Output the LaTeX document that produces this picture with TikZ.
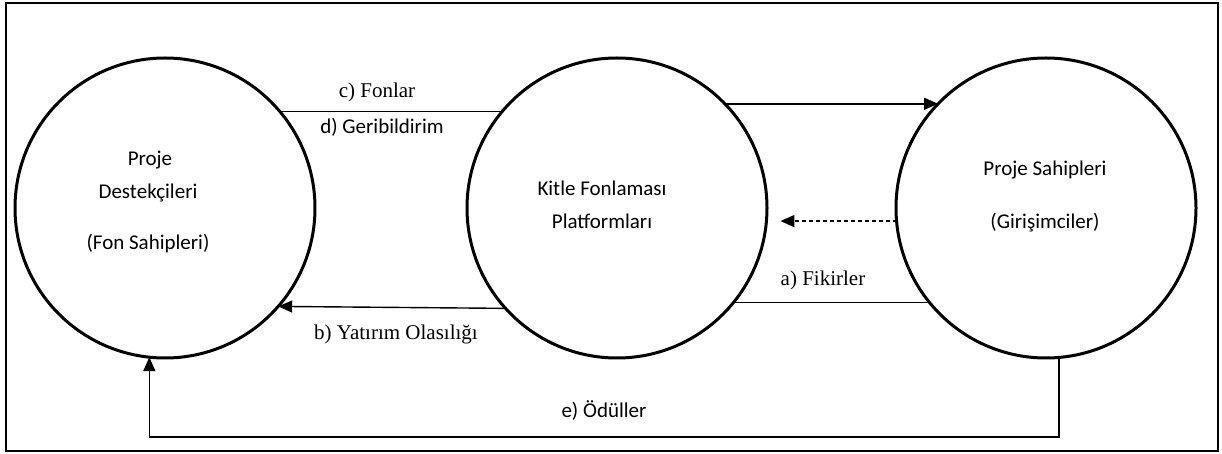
\documentclass[tikz,border=0pt]{standalone}
\usepackage{fontspec}
\setmainfont{Liberation Serif}
\newfontfamily\calfont{Carlito}
\usetikzlibrary{arrows.meta}
\begin{document}
\begin{tikzpicture}[x=0.5pt,y=-0.5pt,
  circ/.style={circle,draw,line width=1.5pt,minimum size=150pt,inner sep=0pt,outer sep=0pt},
  sanstext/.style={font=\calfont\fontsize{10.5}{12.6}\selectfont,inner sep=0pt},
  seriftext/.style={font=\fontsize{10.5}{12.6}\selectfont,inner sep=0pt},
  conn/.style={line width=0.7pt},
  arr/.style={line width=0.7pt,-{Triangle[length=7pt,width=6pt]}}]
\useasboundingbox (0,0) rectangle (1222,454);
\node[draw,line width=1pt,minimum width=606pt,minimum height=224pt,inner sep=0pt,outer sep=0pt,anchor=north west] (frame) at (6,3) {};
\node[circ] (L) at (165,208) {};
\node[circ] (M) at (617,208) {};
\node[circ] (R) at (1046,208) {};
% circle texts
\node[sanstext] (l1) at (150,160) {Proje};
\node[sanstext] (l2) at (148,193) {Destekçileri};
\node[sanstext] (l3) at (148,244) {(Fon Sahipleri)};
\node[sanstext] (m1) at (602,188) {Kitle Fonlaması};
\node[sanstext] (m2) at (602,221) {Platformları};
\node[sanstext] (r1) at (1045,170) {Proje Sahipleri};
\node[sanstext] (r2) at (1045,223) {(Girişimciler)};
% connectors
\draw[conn] (L.40) -- (M.140);
\draw[arr] (M.44) -- (R.136);
\draw[arr,dash pattern=on 2pt off 1.5pt] (R.185) -- ([xshift=7pt]M.-5);
\draw[conn] (R.219) -- (M.-39);
\draw[arr] (M.222) -- (L.-41.5);
\coordinate (bot) at (0,437);
\draw[arr] (R.-85) -- (R.-85 |- bot) -| (L.-96);
% labels
\node[seriftext] (lc) at (377,92) {c) Fonlar};
\node[sanstext] (ld) at (382,127) {d) Geribildirim};
\node[seriftext] (la) at (823,280) {a) Fikirler};
\node[seriftext] (lb) at (396,334) {b) Yatırım Olasılığı};
\node[sanstext] (le) at (604,411) {e) Ödüller};
\end{tikzpicture}
\end{document}
